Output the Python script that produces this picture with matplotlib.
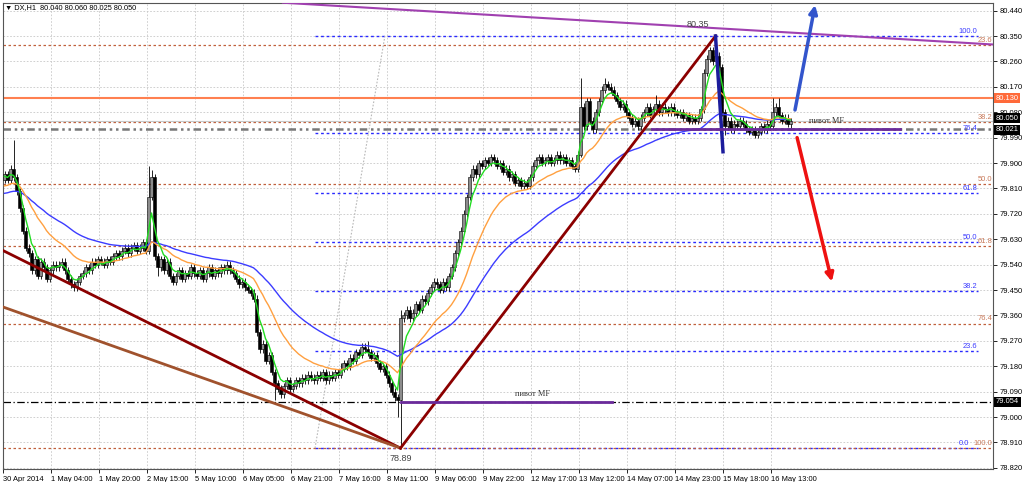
import numpy as np
import matplotlib.pyplot as plt

plt.rcParams['font.family'] = ['Liberation Sans', 'DejaVu Sans']

# DX,H1 closes, 30 Apr - 16 May 2014 (one row = 16 bars = one time label)
closes = [
    79.86, 79.84, 79.88, 79.85, 79.80, 79.74, 79.66, 79.60, 79.58, 79.52, 79.56, 79.50, 79.55, 79.53, 79.49, 79.52,
    79.54, 79.53, 79.54, 79.55, 79.52, 79.49, 79.47, 79.46, 79.48, 79.50, 79.51, 79.53, 79.52, 79.55, 79.54, 79.56,
    79.55, 79.54, 79.56, 79.55, 79.57, 79.58, 79.57, 79.59, 79.60, 79.58, 79.60, 79.61, 79.59, 79.60, 79.62, 79.59,
    79.78, 79.85, 79.57, 79.53, 79.56, 79.52, 79.55, 79.50, 79.48, 79.50, 79.52, 79.49, 79.51, 79.50, 79.53, 79.51,
    79.50, 79.52, 79.49, 79.51, 79.53, 79.50, 79.52, 79.51, 79.53, 79.52, 79.54, 79.52, 79.51, 79.49, 79.47, 79.48,
    79.46, 79.45, 79.44, 79.42, 79.30, 79.24, 79.26, 79.20, 79.22, 79.16, 79.12, 79.10, 79.08, 79.11, 79.13, 79.10,
    79.11, 79.13, 79.12, 79.14, 79.13, 79.15, 79.14, 79.13, 79.15, 79.14, 79.16, 79.13, 79.15, 79.14, 79.16, 79.15,
    79.17, 79.19, 79.18, 79.21, 79.20, 79.23, 79.22, 79.25, 79.24, 79.23, 79.21, 79.22, 79.19, 79.17, 79.18, 79.15,
    79.12, 79.09, 79.07, 79.06, 79.35, 79.36, 79.38, 79.35, 79.37, 79.40, 79.38, 79.42, 79.41, 79.44, 79.46, 79.48,
    79.47, 79.45, 79.48, 79.46, 79.50, 79.53, 79.58, 79.62, 79.66, 79.72, 79.78, 79.85, 79.88, 79.86, 79.90, 79.89,
    79.91, 79.90, 79.92, 79.91, 79.89, 79.90, 79.87, 79.88, 79.85, 79.86, 79.83, 79.84, 79.82, 79.83, 79.82, 79.85,
    79.89, 79.91, 79.92, 79.90, 79.91, 79.92, 79.90, 79.91, 79.93, 79.91, 79.92, 79.90, 79.91, 79.89, 79.88, 79.93,
    80.10, 80.03, 80.12, 80.05, 80.02, 80.08, 80.12, 80.16, 80.18, 80.17, 80.16, 80.14, 80.12, 80.10, 80.11, 80.08,
    80.06, 80.04, 80.05, 80.03, 80.06, 80.08, 80.10, 80.07, 80.09, 80.11, 80.08, 80.10, 80.09, 80.08, 80.10, 80.08,
    80.07, 80.08, 80.06, 80.07, 80.05, 80.06, 80.05, 80.06, 80.09, 80.22, 80.27, 80.30, 80.26, 80.28, 80.24, 80.08,
    80.03, 80.05, 80.02, 80.04, 80.03, 80.05, 80.04, 80.02, 80.01, 80.02, 80.00, 80.01, 80.03, 80.02, 80.04, 80.03,
    80.08, 80.10, 80.07, 80.05, 80.06, 80.04, 80.05,
]
first_open = 79.84
# bars with long shadows: index -> (high, low)
shadows = {3: (79.98, None), 48: (79.89, None), 49: (79.875, None), 51: (None, 79.50),
           90: (None, 79.06), 112: (79.19, None), 121: (79.27, None), 131: (None, 79.00),
           132: (79.38, 78.89), 192: (80.20, 79.92), 200: (80.20, None), 217: (80.14, None),
           237: (80.35, None), 240: (None, 80.00), 256: (80.13, None), 258: (80.13, None),
           262: (80.06, 80.025)}

time_labels = ["30 Apr 2014", "1 May 04:00", "1 May 20:00", "2 May 15:00", "5 May 10:00",
               "6 May 05:00", "6 May 21:00", "7 May 16:00", "8 May 11:00", "9 May 06:00",
               "9 May 22:00", "12 May 17:00", "13 May 12:00", "14 May 07:00", "14 May 23:00",
               "15 May 18:00", "16 May 13:00"]
price_ticks = [80.440, 80.350, 80.260, 80.170, 80.080, 79.990, 79.900, 79.810, 79.720, 79.630,
               79.540, 79.450, 79.360, 79.270, 79.180, 79.090, 79.000, 78.910, 78.820]

fib_levels = [0.0, 23.6, 38.2, 50.0, 61.8, 76.4, 100.0]
fib_blue = (78.89, 80.35)    # 0 -> 100
fib_brown = (80.76, 78.89)
low_bar, low_price = 132, 78.89
high_bar, high_price = 237, 80.35
resist = 80.130
pivot_hi = 80.021
pivot_lo = 79.054
bid = 80.050


def ema(values, period, seed):
    k = 2.0 / (period + 1)
    out = []
    v = seed
    for p in values:
        v = v + k * (p - v)
        out.append(v)
    return np.array(out)


c = np.array(closes)
o = np.r_[first_open, c[:-1]]
hi = np.maximum(o, c) + 0.012
lo = np.minimum(o, c) - 0.012
for i, (h, l) in shadows.items():
    if h is not None:
        hi[i] = h
    if l is not None:
        lo[i] = l
x = np.arange(len(c))

fig = plt.figure(figsize=(10.24, 4.82), dpi=100)
ax = fig.add_axes([3 / 1024, 13 / 482, 990 / 1024, 466 / 482])
ax.set_xlim(-0.5, 329.5)
ax.set_ylim(78.816, 80.467)

# 网格
ax.set_xticks([16 * k - 0.5 for k in range(len(time_labels))])
ax.set_xticklabels(time_labels, ha='left')
ax.set_yticks(price_ticks)
ax.set_yticklabels(['%.3f' % p for p in price_ticks])
ax.yaxis.tick_right()
ax.grid(True, color='#c8c8c8', ls=(0, (2, 2)), lw=0.6, zorder=0)
ax.tick_params(axis='both', labelsize=5.4, length=3, width=0.6, pad=2)
for s in ax.spines.values():
    s.set_color('#555555')
    s.set_linewidth(0.8)

# 斐波那契水平线
for lv in fib_levels:
    yb = fib_blue[0] + lv / 100 * (fib_blue[1] - fib_blue[0])
    ax.plot([103.5, 324.5], [yb, yb], color='#2a2aff', ls=(0, (2, 2)), lw=1, zorder=2)
    xl = 321.6 if lv == 0.0 else 324.3
    ax.text(xl, yb + 0.004, '%.1f' % lv, color='#3a3aff', fontsize=5.4, ha='right', va='bottom', zorder=6)
for lv in fib_levels[1:]:
    yr = fib_brown[0] + lv / 100 * (fib_brown[1] - fib_brown[0])
    ax.plot([-0.5, 329.5], [yr, yr], color='#c0603c', ls=(0, (2, 2)), lw=0.9, zorder=2)
    ax.text(329.3, yr + 0.004, '%.1f' % lv, color='#c87858', fontsize=5.4, ha='right', va='bottom', zorder=7)
ax.plot([103.5, 126.8], [fib_blue[0], fib_blue[1]], color='#b8b8b8', ls=(0, (1.5, 1.5)), lw=0.8, zorder=2)

# 水平线
ax.axhline(resist, color='#ff8050', lw=1.5, zorder=2)
ax.axhline(bid, color='#c8c8c8', lw=0.8, zorder=2)
ax.axhline(pivot_hi, color='#777777', lw=1.8, ls=(0, (3, 1.5, 1, 1.5, 1, 1.5)), zorder=2)
ax.axhline(pivot_lo, color='black', lw=0.9, ls=(0, (6, 2, 1, 2)), zorder=2)

# 蜡烛图
up = c >= o
body = np.maximum(np.abs(c - o), 0.002)
ax.vlines(x, lo, hi, color='black', lw=0.6, zorder=3)
ax.bar(x[up], body[up], bottom=o[up], width=0.7, color='#8c8c8c', edgecolor='black', lw=0.4, zorder=3)
ax.bar(x[~up], body[~up], bottom=c[~up], width=0.7, color='black', edgecolor='black', lw=0.4, zorder=3)

# 均线
ax.plot(x, ema(c, 50, 79.79), color='#3c3cff', lw=1, zorder=4)
ax.plot(x, ema(c, 21, 79.815), color='#ffa040', lw=1, zorder=4)
ax.plot(x, ema(c, 5, 79.85), color='#22dd22', lw=1, zorder=4)

# 趋势线
ax.plot([-0.5, low_bar], [79.59, low_price], color='#8b0000', lw=2, zorder=5)
ax.plot([-0.5, low_bar], [79.39, low_price], color='#a0522d', lw=2, zorder=5)
ax.plot([low_bar, high_bar], [low_price, high_price], color='#8b0000', lw=2, zorder=5)
ax.plot([high_bar, 239.5], [high_price, 79.94], color='#1c1c9c', lw=2.5, zorder=5)
ax.plot([92.8, 329.5], [80.468, 80.32], color='#a040b0', lw=1.5, zorder=5)

# 枢轴
ax.plot([low_bar, 202.5], [pivot_lo, pivot_lo], color='#6a2a9a', lw=2, zorder=5)
ax.plot([215.8, 298.5], [pivot_hi, pivot_hi], color='#6a2a9a', lw=2, zorder=5)
ax.text(176, pivot_lo + 0.012, 'пивот MF', family=['Liberation Serif', 'DejaVu Serif'],
        fontsize=6, color='#333333', ha='center', va='bottom', zorder=6)
ax.text(274, pivot_hi + 0.012, 'пивот MF', family=['Liberation Serif', 'DejaVu Serif'],
        fontsize=6, color='#333333', ha='center', va='bottom', zorder=6)

ax.text(high_bar - 6, high_price + 0.025, '%.2f' % high_price, fontsize=6.5, color='#444444',
        ha='center', va='bottom', zorder=6)
ax.text(low_bar, low_price - 0.022, '%.2f' % low_price, fontsize=6.5, color='#444444',
        ha='center', va='top', zorder=6)

# 箭头
ax.annotate('', xy=(270.2, 80.46), xytext=(263.5, 80.088),
            arrowprops=dict(arrowstyle='-|>', color='#3355cc', lw=2.5, mutation_scale=12,
                            shrinkA=0, shrinkB=0), zorder=6)
ax.annotate('', xy=(275.8, 79.48), xytext=(264.2, 79.99),
            arrowprops=dict(arrowstyle='-|>', color='#ee1111', lw=2.5, mutation_scale=12,
                            shrinkA=0, shrinkB=0), zorder=6)

# 价格标签
tr = ax.get_yaxis_transform()
for val, shown, fc in [(resist, resist, '#ff6a3a'), (bid, bid + 0.008, 'black'),
                       (pivot_hi, pivot_hi - 0.003, 'black'), (pivot_lo, pivot_lo, 'black')]:
    ax.text(1.003, shown, '%.3f' % val, transform=tr, fontsize=5.4, color='white', ha='left',
            va='center', clip_on=False, zorder=10,
            bbox=dict(boxstyle='square,pad=0.2', fc=fc, ec='none'))

fig.text(5 / 1024, 1 - 8 / 482, '▼ DX,H1  80.040 80.060 80.025 80.050', fontsize=5.3,
         ha='left', va='center')

plt.savefig('out.png')
plt.close()
